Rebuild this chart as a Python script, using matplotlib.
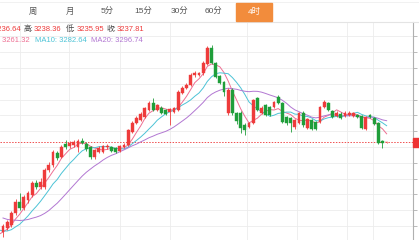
import numpy as np
import pandas as pd
import matplotlib
matplotlib.use("Agg")
import matplotlib.pyplot as plt
from matplotlib.patches import Rectangle
from matplotlib.lines import Line2D

plt.rcParams["font.family"] = ["Liberation Sans", "Noto Sans CJK SC", "DejaVu Sans"]

W, H = 419, 240

# ── data ───────────────────────────────────────────────────────────────
tabs = ["周", "月", "5分", "15分", "30分", "60分", "4时"]
active_tab = "4时"

# closes of the bars just left of the visible window (needed for the MAs)
pre_close = [3079, 3070, 3064, 3058, 3052, 3046, 3040, 3034, 3028, 3019,
             2998, 2986, 2974, 2962, 2950, 2956, 2962, 2968, 2968]

opens = [2968, 2980, 2989, 3025, 3058, 3040, 3064, 3079, 3115, 3103,
         3103, 3154, 3169, 3205, 3193, 3232, 3226, 3229, 3223, 3241,
         3232, 3223, 3193, 3208, 3208, 3223, 3223, 3220, 3211, 3223,
         3229, 3268, 3295, 3304, 3313, 3334, 3355, 3334, 3340, 3334,
         3328, 3328, 3334, 3385, 3400, 3409, 3439, 3439, 3445, 3472,
         3520, 3475, 3436, 3418, 3325, 3394, 3325, 3325, 3289, 3283,
         3295, 3370, 3325, 3349, 3343, 3343, 3373, 3355, 3313, 3310,
         3283, 3295, 3325, 3280, 3304, 3298, 3298, 3343, 3355, 3331,
         3316, 3322, 3316, 3319, 3316, 3319, 3316, 3277, 3319, 3310,
         3295, 3241, 3236.64]
closes = [2986, 2998, 3025, 3058, 3040, 3073, 3085, 3115, 3103, 3118,
          3154, 3169, 3208, 3190, 3223, 3223, 3235, 3238, 3241, 3235,
          3217, 3193, 3214, 3220, 3226, 3226, 3211, 3208, 3226, 3229,
          3274, 3295, 3310, 3322, 3340, 3355, 3334, 3349, 3325, 3322,
          3337, 3340, 3388, 3400, 3409, 3439, 3445, 3445, 3475, 3520,
          3475, 3433, 3415, 3388, 3394, 3325, 3301, 3280, 3274, 3295,
          3364, 3334, 3340, 3319, 3319, 3358, 3355, 3298, 3295, 3295,
          3304, 3325, 3289, 3307, 3277, 3277, 3343, 3358, 3334, 3313,
          3325, 3310, 3325, 3325, 3325, 3313, 3280, 3313, 3313, 3292,
          3235, 3235, 3237.81]
highs = [2992, 3004, 3031, 3067, 3085, 3079, 3091, 3121, 3124, 3130,
         3160, 3178, 3214, 3211, 3229, 3244, 3241, 3244, 3247, 3250,
         3238, 3226, 3217, 3226, 3229, 3232, 3226, 3223, 3229, 3235,
         3277, 3301, 3316, 3328, 3343, 3361, 3370, 3352, 3346, 3337,
         3340, 3343, 3394, 3406, 3415, 3445, 3451, 3448, 3481, 3526,
         3529, 3478, 3439, 3421, 3400, 3400, 3328, 3331, 3295, 3298,
         3367, 3373, 3346, 3352, 3346, 3361, 3379, 3358, 3316, 3313,
         3307, 3328, 3331, 3310, 3307, 3301, 3346, 3364, 3358, 3334,
         3331, 3328, 3331, 3331, 3328, 3322, 3319, 3316, 3322, 3313,
         3298, 3244, 3238.36]
lows = [2953, 2974, 2983, 3019, 3034, 3034, 3055, 3073, 3097, 3097,
        3097, 3148, 3163, 3184, 3190, 3217, 3220, 3223, 3208, 3232,
        3211, 3187, 3187, 3205, 3205, 3217, 3208, 3205, 3208, 3220,
        3226, 3265, 3292, 3301, 3310, 3331, 3331, 3331, 3322, 3319,
        3289, 3325, 3331, 3382, 3397, 3406, 3433, 3436, 3439, 3469,
        3472, 3430, 3412, 3376, 3319, 3319, 3292, 3265, 3259, 3280,
        3292, 3331, 3322, 3316, 3316, 3340, 3352, 3295, 3289, 3268,
        3277, 3292, 3283, 3277, 3274, 3274, 3295, 3340, 3331, 3310,
        3313, 3307, 3313, 3316, 3313, 3310, 3277, 3274, 3310, 3289,
        3232, 3220, 3235.95]

ma_periods = [5, 10, 20]
ma_shown = [3261.32, 3282.64, 3296.74]

# ── styling ────────────────────────────────────────────────────────────
UP = "#ee3b3b"
DOWN = "#1f9e3a"
MA_COLORS = ["#ee6f93", "#4cc3d6", "#b277d2"]
GRID = "#ececec"
FS = 5.5


def fx(px):
    return px / W


def fy(py):
    return 1 - py / H


fig = plt.figure(figsize=(W / 100, H / 100), dpi=100)
fig.patch.set_facecolor("white")

# chart area: pixel x 0..413, y 22..240
ax = fig.add_axes([0, 0, fx(413), (240 - 22) / H])
ax.set_facecolor("white")

step = 4.17  # px per bar, first bar centred at px 3
n = len(closes)
x = np.arange(n)
ax.set_xlim(-3 / step, 410 / step)
ax.set_ylim(2944, 3598)

# grid
yt = 2986 + 47.4 * np.arange(13)
for t in yt:
    ax.axhline(t, color=GRID, lw=0.6, zorder=0)
for px in [20, 69, 120, 170, 247, 297, 347, 373]:
    ax.axvline((px - 3) / step, color=GRID, lw=0.6, zorder=0)

# moving averages
all_close = pd.Series(pre_close + closes, dtype=float)
xa = np.arange(-len(pre_close), n)
for per, col in zip(ma_periods, MA_COLORS):
    ma = all_close.rolling(per).mean().values
    keep = xa >= -2
    ax.plot(xa[keep], ma[keep], color=col, lw=0.7, zorder=2)

# candles
o = np.array(opens, float)
c = np.array(closes, float)
hi = np.array(highs, float)
lo = np.array(lows, float)
colors = np.where(c >= o, UP, DOWN)
ax.vlines(x, lo, hi, colors=colors, lw=0.6, zorder=3)
body = np.maximum(np.abs(c - o), 1.2)
ax.bar(x, body, bottom=np.minimum(o, c), width=0.68, color=colors,
       edgecolor=colors, lw=0.3, zorder=4)

# last price line
ax.axhline(closes[-1], color="#f05050", lw=0.7, ls=(0, (1.5, 1.5)), zorder=1)

for side in ["top", "left", "bottom"]:
    ax.spines[side].set_visible(False)
ax.spines["right"].set_color("#b0b0b0")
ax.spines["right"].set_linewidth(0.8)
ax.yaxis.tick_right()
ax.set_yticks(yt)
ax.tick_params(axis="y", length=3, width=0.6, color="#b0b0b0",
               labelright=False, right=True, left=False)
ax.set_xticks([])

# price tag at the right edge
fig.add_artist(Rectangle((fx(413), fy(147)), fx(6), 9 / H,
                         transform=fig.transFigure, color="#ee3333", zorder=5))

# ── tab bar ────────────────────────────────────────────────────────────
fig.add_artist(Line2D([0, 1], [fy(21.5)] * 2, transform=fig.transFigure,
                      color="#e4e4e4", lw=0.8))
fig.add_artist(Line2D([0, 1], [fy(1.5)] * 2, transform=fig.transFigure,
                      color="#efefef", lw=0.6))
tab_x = [33, 70, 107, 143, 180, 213, 254]
for label, tx in zip(tabs, tab_x):
    if label == active_tab:
        fig.add_artist(Rectangle((fx(236), fy(21)), fx(36), 18 / H,
                                 transform=fig.transFigure,
                                 color="#f28c3c", zorder=2))
        fig.text(fx(tx), fy(12), label, color="white", fontsize=6,
                 ha="center", va="center", zorder=3)
    else:
        fig.text(fx(tx), fy(12), label, color="#555555", fontsize=6,
                 ha="center", va="center")

# ── header: OHLC and MA values (cut at the left edge, as in the screen) ──
ohlc = [("开:", opens[-1], -6.5), ("高:", highs[-1], 34),
        ("低:", lows[-1], 76.5), ("收:", closes[-1], 117)]
for lab, val, px in ohlc:
    fig.text(fx(px - 0.5), fy(29.5), lab, color="#444444", fontsize=FS,
             ha="right", va="center", zorder=6)
    fig.text(fx(px), fy(29.5), f"{val:.2f}", color=UP, fontsize=FS,
             ha="left", va="center", zorder=6)

ma_right = [30, 87, 143]
for per, val, col, px in zip(ma_periods, ma_shown, MA_COLORS, ma_right):
    fig.text(fx(px), fy(40.5), f"MA{per}: {val:.2f}", color=col,
             fontsize=FS, ha="right", va="center", zorder=6)

fig.savefig("out.png", dpi=100, facecolor="white")
